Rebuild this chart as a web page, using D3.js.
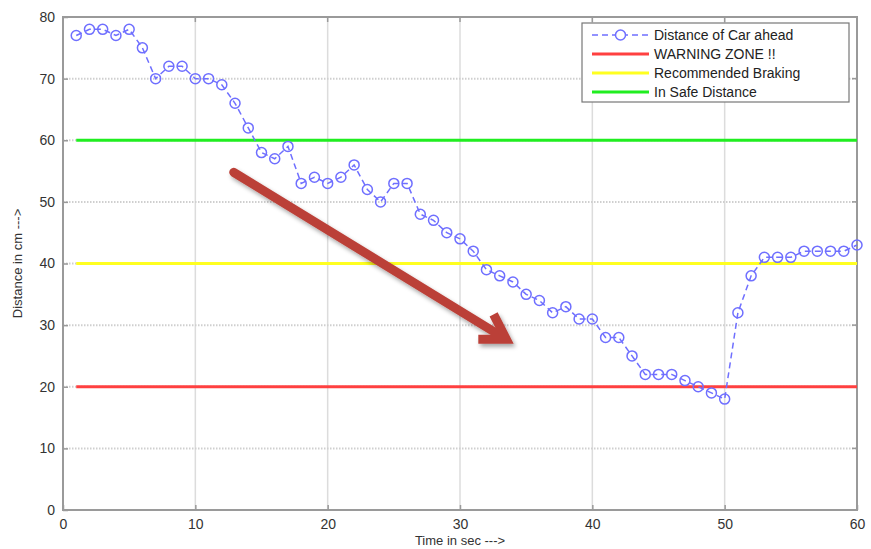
<!DOCTYPE html>
<html>
<head>
<meta charset="utf-8">
<script src="https://cdn.jsdelivr.net/npm/d3@7"></script>
<style>
  body { margin: 0; background: #fff; }
  svg { display: block; font-family: "Liberation Sans", Arial, sans-serif; }
</style>
</head>
<body>
<svg width="871" height="549"></svg>
<script>
// Distance of car ahead vs time, with zone lines
const times = d3.range(1, 61);
const distance = [77, 78, 78, 77, 78, 75, 70, 72, 72, 70,
                  70, 69, 66, 62, 58, 57, 59, 53, 54, 53,
                  54, 56, 52, 50, 53, 53, 48, 47, 45, 44,
                  42, 39, 38, 37, 35, 34, 32, 33, 31, 31,
                  28, 28, 25, 22, 22, 22, 21, 20, 19, 18,
                  32, 38, 41, 41, 41, 42, 42, 42, 42, 43];
const zoneNames = ["WARNING ZONE !!", "Recommended Braking", "In Safe Distance"];
const zoneLevels = [20, 40, 60];
const zoneColors = ["#ff4040", "#ffff20", "#20ee20"];
const xTicks = [0, 10, 20, 30, 40, 50, 60];
const yTicks = [0, 10, 20, 30, 40, 50, 60, 70, 80];
// trend arrow (data coords)
const arrowFrom = [12.9, 54.8];
const arrowTo = [33.5, 27.7];

const svg = d3.select("svg");
const margin = { left: 63, right: 14, top: 17, bottom: 39 };
const width = 871 - margin.left - margin.right;
const height = 549 - margin.top - margin.bottom;

const x = d3.scaleLinear().domain([0, 60]).range([margin.left, margin.left + width]);
const y = d3.scaleLinear().domain([0, 80]).range([margin.top + height, margin.top]);

// drop shadow for the arrow
const defs = svg.append("defs");
defs.append("filter").attr("id", "shadow")
  .attr("x", "-20%").attr("y", "-20%").attr("width", "140%").attr("height", "140%")
  .append("feDropShadow")
  .attr("dx", 2).attr("dy", 3).attr("stdDeviation", 2)
  .attr("flood-color", "#000").attr("flood-opacity", 0.35);

// grid
svg.append("g").selectAll("line.vg")
  .data(xTicks.slice(1, -1))
  .enter().append("line")
  .attr("x1", d => x(d)).attr("x2", d => x(d))
  .attr("y1", y(0)).attr("y2", y(80))
  .attr("stroke", "#dcdcdc").attr("stroke-width", 1.5);

svg.append("g").selectAll("line.hg")
  .data(yTicks.slice(1, -1))
  .enter().append("line")
  .attr("x1", x(0)).attr("x2", x(60))
  .attr("y1", d => y(d)).attr("y2", d => y(d))
  .attr("stroke", "#cfcfcf").attr("stroke-width", 2)
  .attr("stroke-dasharray", "1.5,1.5");

// box
svg.append("rect")
  .attr("x", x(0)).attr("y", y(80))
  .attr("width", x(60) - x(0)).attr("height", y(0) - y(80))
  .attr("fill", "none").attr("stroke", "#9a9a9a").attr("stroke-width", 2);

// axes
const xAxis = svg.append("g")
  .attr("transform", `translate(0,${y(0)})`)
  .call(d3.axisBottom(x).tickValues(xTicks).tickSize(-5).tickPadding(9));
const yAxis = svg.append("g")
  .attr("transform", `translate(${x(0)},0)`)
  .call(d3.axisLeft(y).tickValues(yTicks).tickSize(-5).tickPadding(8));
[xAxis, yAxis].forEach(a => {
  a.select(".domain").remove();
  a.selectAll(".tick line").attr("stroke", "#9a9a9a").attr("stroke-width", 1.5);
  a.selectAll(".tick text").attr("fill", "#333").attr("font-size", 14);
});
// top/right ticks like matlab
svg.append("g").selectAll("line")
  .data(xTicks).enter().append("line")
  .attr("x1", d => x(d)).attr("x2", d => x(d))
  .attr("y1", y(80)).attr("y2", y(80) + 5)
  .attr("stroke", "#9a9a9a").attr("stroke-width", 1.5);
svg.append("g").selectAll("line")
  .data(yTicks).enter().append("line")
  .attr("x1", x(60) - 5).attr("x2", x(60))
  .attr("y1", d => y(d)).attr("y2", d => y(d))
  .attr("stroke", "#9a9a9a").attr("stroke-width", 1.5);

// axis labels
svg.append("text")
  .attr("x", (x(0) + x(60)) / 2).attr("y", 545)
  .attr("text-anchor", "middle").attr("font-size", 13).attr("fill", "#333")
  .text("Time in sec --->");
svg.append("text")
  .attr("transform", `translate(22,${(y(0) + y(80)) / 2}) rotate(-90)`)
  .attr("text-anchor", "middle").attr("font-size", 13).attr("fill", "#333")
  .text("Distance in cm --->");

// zone lines
svg.append("g").selectAll("line")
  .data(zoneLevels).enter().append("line")
  .attr("x1", x(times[0])).attr("x2", x(times[times.length - 1]))
  .attr("y1", d => y(d)).attr("y2", d => y(d))
  .attr("stroke", (d, i) => zoneColors[i]).attr("stroke-width", 3);

// distance series
const line = d3.line().x((d, i) => x(times[i])).y(d => y(d));
const blue = "#6f6fff";
svg.append("path")
  .datum(distance)
  .attr("d", line)
  .attr("fill", "none").attr("stroke", blue).attr("stroke-width", 1.5)
  .attr("stroke-dasharray", "6,4");
svg.append("g").selectAll("circle")
  .data(distance).enter().append("circle")
  .attr("cx", (d, i) => x(times[i])).attr("cy", d => y(d))
  .attr("r", 5)
  .attr("fill", "none").attr("stroke", blue).attr("stroke-width", 1.5);

// trend arrow
const ax0 = x(arrowFrom[0]), ay0 = y(arrowFrom[1]);
const ax1 = x(arrowTo[0]), ay1 = y(arrowTo[1]);
const ang = Math.atan2(ay1 - ay0, ax1 - ax0);
const headLen = 28;
const hx1 = ax1 - headLen * Math.cos(ang - 0.55), hy1 = ay1 - headLen * Math.sin(ang - 0.55);
const hx2 = ax1 - headLen * Math.cos(ang + 0.55), hy2 = ay1 - headLen * Math.sin(ang + 0.55);
const arrow = svg.append("g").attr("filter", "url(#shadow)");
arrow.append("path")
  .attr("d", `M${ax0},${ay0}L${ax1 - 3 * Math.cos(ang)},${ay1 - 3 * Math.sin(ang)}`)
  .attr("stroke", "#bb4038").attr("stroke-width", 9).attr("stroke-linecap", "round")
  .attr("fill", "none");
arrow.append("path")
  .attr("d", `M${hx1},${hy1}L${ax1},${ay1}L${hx2},${hy2}`)
  .attr("stroke", "#bb4038").attr("stroke-width", 9).attr("stroke-linejoin", "miter")
  .attr("fill", "none");

// legend
const legend = svg.append("g").attr("transform", "translate(582,23)");
legend.append("rect")
  .attr("width", 267).attr("height", 79)
  .attr("fill", "#fff").attr("stroke", "#777").attr("stroke-width", 1.2);
const legendItems = [{ name: "Distance of Car ahead", color: blue, marker: true }]
  .concat(zoneNames.map((n, i) => ({ name: n, color: zoneColors[i], marker: false })));
const rows = legend.selectAll("g.row")
  .data(legendItems).enter().append("g")
  .attr("transform", (d, i) => `translate(0,${12 + i * 19})`);
rows.append("line")
  .attr("x1", 10).attr("x2", 67).attr("y1", 0).attr("y2", 0)
  .attr("stroke", d => d.color)
  .attr("stroke-width", d => d.marker ? 1.5 : 3)
  .attr("stroke-dasharray", d => d.marker ? "6,4" : null);
rows.filter(d => d.marker).append("circle")
  .attr("cx", 38.5).attr("cy", 0).attr("r", 5)
  .attr("fill", "#fff").attr("stroke", blue).attr("stroke-width", 1.5);
rows.append("text")
  .attr("x", 72).attr("y", 0).attr("dy", "0.35em")
  .attr("font-size", 14).attr("fill", "#222")
  .text(d => d.name);
</script>
</body>
</html>
